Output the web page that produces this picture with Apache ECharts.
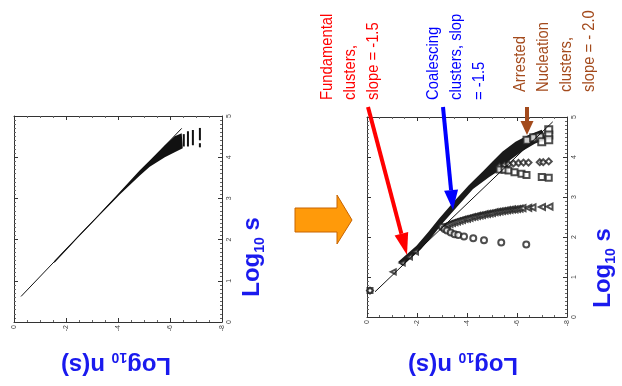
<!DOCTYPE html>
<html><head><meta charset="utf-8">
<script src="https://cdn.jsdelivr.net/npm/echarts/dist/echarts.min.js"></script>
<style>html,body{margin:0;padding:0;background:#fff}#c{width:622px;height:386px}</style>
</head><body><div id="c"></div>
<script>
// ---------- data (x = log10 n(s), y = log10 s) ----------
const leftFitLine = [[-0.27,0.62],[-6.45,4.70]];
const leftBand = [[-1.55,1.48],[-2.51,2.12],[-3.29,2.63],[-4.06,3.15],[-4.83,3.68],[-5.22,3.92],[-5.80,4.29],[-6.18,4.51],[-6.45,4.58],
                  [-6.49,4.22],[-6.18,4.12],[-5.80,4.00],[-5.22,3.77],[-4.83,3.55],[-4.06,3.09],[-3.29,2.59],[-2.51,2.08],[-1.55,1.43]];
const leftBars = [[-6.53,4.26,4.56],[-6.69,4.26,4.63],[-6.88,4.29,4.66],[-7.15,4.41,4.71],[-7.15,4.24,4.34]];

const rightFitLine = [[-0.32,0.63],[-7.43,4.88]];
const rightBand = [[-1.25,1.38],[-1.98,1.78],[-2.46,2.13],[-2.87,2.45],[-3.47,2.88],[-4.08,3.30],[-4.65,3.65],[-5.01,3.88],[-5.41,4.13],[-5.94,4.38],[-6.46,4.55],[-6.99,4.68],
                   [-7.15,4.45],[-6.71,4.33],[-6.22,4.15],[-5.74,3.93],[-5.33,3.68],[-4.89,3.50],[-4.24,3.20],[-3.64,2.78],[-3.03,2.35],[-2.63,2.03],[-2.14,1.68],[-1.41,1.28]];
const rightStart = [[-1.05,1.13],[-1.41,1.35],[-1.70,1.50],[-1.94,1.63]];
const rightOrigin = [[-0.12,0.66]];
const rightTriangles = [[-3.0,2.24],[-3.1,2.27],[-3.2,2.3],[-3.3,2.33],[-3.4,2.35],[-3.5,2.37],[-3.6,2.39],[-3.7,2.41],[-3.8,2.43],[-3.9,2.45],[-4.0,2.46],[-4.1,2.48],[-4.2,2.5],[-4.3,2.51],[-4.4,2.53],[-4.5,2.54],[-4.6,2.55],[-4.7,2.57],[-4.8,2.58],[-4.9,2.59],[-5.0,2.6],[-5.1,2.62],[-5.2,2.63],[-5.3,2.64],[-5.4,2.65],[-5.5,2.66],[-5.6,2.67],[-5.7,2.68],[-5.8,2.69],[-5.9,2.69],[-6.0,2.7],[-6.1,2.71],[-6.22,2.72],[-6.45,2.73],[-6.62,2.74],[-7.0,2.75],[-7.3,2.76]];
const rightCircles = [[-3.0,2.25],[-3.1,2.2],[-3.2,2.16],[-3.35,2.11],[-3.5,2.07],[-3.65,2.05],[-3.88,2.01],[-4.25,1.97],[-4.68,1.92],[-5.37,1.86],[-6.37,1.81]];
const rightDiamonds = [[-5.3,3.77],[-5.5,3.8],[-5.66,3.82],[-5.86,3.84],[-6.06,3.85],[-6.26,3.86],[-6.46,3.86],[-6.91,3.87],[-7.05,3.87],[-7.27,3.89]];
const rightSquaresLow = [[-5.3,3.69],[-5.5,3.68],[-5.66,3.66],[-5.9,3.62],[-6.18,3.58],[-6.38,3.55],[-6.99,3.5],[-7.27,3.48]];
const rightSquaresHigh = [[-6.4,4.42],[-6.67,4.48],[-6.91,4.5],[-6.99,4.38],[-7.27,4.68],[-7.27,4.55],[-7.27,4.43]];
const logSTicks = [0,1,2,3,4,5];
const logNTicks = [0,-2,-4,-6,-8];

// ---------- chart ----------
const chart = echarts.init(document.getElementById('c'), null, {renderer:'canvas'});
const FONT = '"Liberation Sans", Arial, sans-serif';
function xAx(g, pos, labels){
  return {gridIndex:g, type:'value', min:logNTicks[4], max:logNTicks[0], interval:2, inverse:true, position:pos,
    axisLine:{show:true, onZero:false, lineStyle:{color:'#333', width:1}},
    axisTick:{show:true, inside:true, length:4, lineStyle:{color:'#333'}},
    minorTick:{show:true, splitNumber:4, length:2, lineStyle:{color:'#666'}},
    axisLabel:{show:labels, rotate:90, fontSize:7, color:'#444', margin:3, fontFamily:FONT},
    splitLine:{show:false}};
}
function yAx(g, pos, labels){
  return {gridIndex:g, type:'value', min:logSTicks[0], max:logSTicks[5], interval:1, position:pos,
    axisLine:{show:true, onZero:false, lineStyle:{color:'#333', width:1}},
    axisTick:{show:true, inside:true, length:4, lineStyle:{color:'#333'}},
    minorTick:{show:true, splitNumber:10, length:2, lineStyle:{color:'#666'}},
    axisLabel:{show:labels, rotate:90, fontSize:7, color:'#444', margin:4, fontFamily:FONT},
    splitLine:{show:false}};
}
function poly(xi, pts, color){
  return {type:'custom', xAxisIndex:xi, yAxisIndex:xi, data:[pts[0]], silent:true, z:2,
    renderItem:function(params, api){
      return {type:'polygon', shape:{points:pts.map(p=>api.coord(p))}, style:{fill:color}};
    }};
}
function scat(xi, data, symbol, size, rot){
  return {type:'scatter', xAxisIndex:xi, yAxisIndex:xi, data:data, symbol:symbol, symbolSize:size, symbolRotate:rot||0,
    itemStyle:{color:'#222', borderColor:'#222', borderWidth:1}, z:3};
}
const sub = (txt, size) => ({
  text: txt,
  rich:{a:{fontSize:size, fontWeight:'bold', fontFamily:FONT, fill:'#1a1aee', color:'#1a1aee', verticalAlign:'middle', lineHeight:size+6},
        b:{fontSize:Math.round(size*0.58), fontWeight:'bold', fontFamily:FONT, fill:'#1a1aee', color:'#1a1aee', verticalAlign:'bottom', lineHeight:size*0.6}}
});
function label(x, y, rot, rich){
  return {type:'text', x:x, y:y, rotation:rot, z:10,
    style:Object.assign({align:'center', verticalAlign:'middle', textAlign:'center', textVerticalAlign:'middle'}, rich)};
}
function note(x, y, txt, color){
  return {type:'text', x:x, y:y, rotation:Math.PI/2, scaleX:0.87, scaleY:1, z:10,
    style:{text:txt, fill:color, font:'17px ' + FONT, lineHeight:23, align:'left', verticalAlign:'top', textAlign:'left', textVerticalAlign:'top'}};
}
function arrow(x0, y0, x1, y1, len, half, color, w){
  const dx = x1-x0, dy = y1-y0, L = Math.hypot(dx,dy), ux = dx/L, uy = dy/L;
  const bx = x1-ux*len, by = y1-uy*len;
  return [
    {type:'line', z:10, shape:{x1:x0, y1:y0, x2:bx, y2:by}, style:{stroke:color, lineWidth:w}},
    {type:'polygon', z:10, shape:{points:[[x1,y1],[bx-uy*half, by+ux*half],[bx+uy*half, by-ux*half]]}, style:{fill:color}}
  ];
}

const option = {
  animation:false,
  backgroundColor:'#fff',
  grid:[{left:14, top:116, width:208, height:206}, {left:367, top:117, width:200, height:200}],
  xAxis:[xAx(0,'bottom',true), xAx(0,'top',false), xAx(1,'bottom',true), xAx(1,'top',false)],
  yAxis:[yAx(0,'right',true), yAx(0,'left',false), yAx(1,'right',true), yAx(1,'left',false)],
  series:[
    poly(0, leftBand, '#111'),
    {type:'line', xAxisIndex:0, yAxisIndex:0, data:leftFitLine, symbol:'none', lineStyle:{color:'#111', width:1}, z:4},
    {type:'custom', xAxisIndex:0, yAxisIndex:0, data:leftBars, encode:{x:0, y:[1,2]}, z:3,
      renderItem:function(params, api){
        const a = api.coord([api.value(0), api.value(1)]), b = api.coord([api.value(0), api.value(2)]);
        return {type:'line', shape:{x1:a[0], y1:a[1], x2:b[0], y2:b[1]}, style:{stroke:'#111', lineWidth:2}};
      }},
    {type:'line', xAxisIndex:2, yAxisIndex:2, data:rightFitLine, symbol:'none', lineStyle:{color:'#111', width:1}, z:4},
    poly(2, rightBand, '#1a1a1a'),
    scat(2, rightStart, 'emptyTriangle', 5, 90),
    scat(2, rightOrigin, 'emptyRect', 5),
    scat(2, rightOrigin, 'emptyDiamond', 6),
    scat(2, rightTriangles, 'emptyTriangle', 6, 90),
    scat(2, rightCircles, 'emptyCircle', 6),
    scat(2, rightDiamonds, 'emptyDiamond', 6),
    scat(2, rightSquaresLow, 'emptyRect', 6),
    scat(2, rightSquaresHigh, 'emptyRect', 7)
  ],
  graphic:[
    label(116, 365, Math.PI, sub('{a|Log}{b|10}{a| n(s)}', 24)),
    label(463, 365, Math.PI, sub('{a|Log}{b|10}{a| n(s)}', 24)),
    label(252, 257, Math.PI/2, sub('{a|Log}{b|10}{a| s}', 24)),
    label(603, 268, Math.PI/2, sub('{a|Log}{b|10}{a| s}', 24)),
    note(316, 100, 'Fundamental\nclusters,\nslope = -1.5', '#ff0000'),
    note(422, 100, 'Coalescing\nclusters, slop\n= -1.5', '#0000ff'),
    note(509, 92, 'Arrested\nNucleation\nclusters,\nslope = - 2.0', '#a34a1c'),
    ...arrow(368,107,407,255,22,7,'#ff0000',4),
    ...arrow(443,107,453,210,20,7,'#0000ff',4),
    ...arrow(527,107,527,135,14,6.5,'#a34a1c',4),
    {type:'polygon', z:10, shape:{points:[[295,208],[337,208],[337,195],[352,220],[337,244],[337,232],[295,232]]},
      style:{fill:'#ff9a0a', stroke:'#c86400', lineWidth:1}}
  ]
};
chart.setOption(option);
</script>
</body></html>
